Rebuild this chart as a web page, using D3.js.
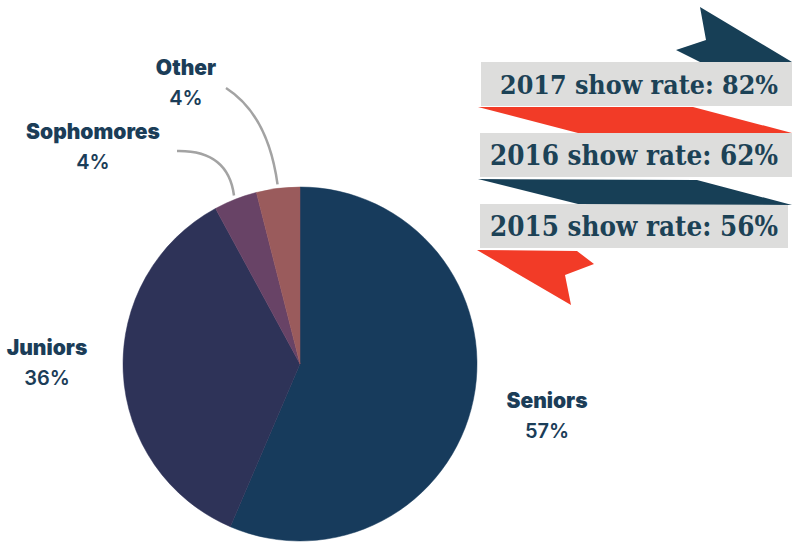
<!DOCTYPE html>
<html>
<head>
<meta charset="utf-8">
<script src="https://cdn.jsdelivr.net/npm/d3@7/dist/d3.min.js"></script>
<style>
  html, body { margin: 0; padding: 0; background: #ffffff; }
  svg { display: block; }
</style>
</head>
<body>
<svg id="chart" width="792" height="542"></svg>
<script>
// ---- data ----
const categories = ["Seniors", "Juniors", "Sophomores", "Other"];
const shares = [57, 36, 4, 4];
const sliceColors = ["#173b5c", "#2e3358", "#684366", "#9a5b5c"];
const years = ["2017", "2016", "2015"];
const showRates = [82, 62, 56];

// label anchor positions (layout)
const labelPos = {
  "Other":      {x: 186, y: 75,  lead: [226, 88],  ctrl: [268, 115]},
  "Sophomores": {x: 93,  y: 139, lead: [177, 151], ctrl: [228, 150]},
  "Juniors":    {x: 47,  y: 355},
  "Seniors":    {x: 547, y: 408}
};

const svg = d3.select("#chart");
const W = 792, H = 542;
svg.append("rect").attr("width", W).attr("height", H).attr("fill", "#ffffff");

// ---- ribbons / banners ----
const navy = "#173f56", red = "#f23b27", gray = "#dddddc", textCol = "#1c4256";
const rib = svg.append("g");

const bandY = d3.scaleBand().domain(years).range([62, 248]).paddingInner(0.38);
const boxX0 = {"2017": 481, "2016": 480, "2015": 480};
years.forEach((yr) => {
  rib.append("rect")
    .attr("x", boxX0[yr]).attr("y", bandY(yr))
    .attr("width", (yr === "2015" ? 788 : 792) - boxX0[yr])
    .attr("height", bandY.bandwidth())
    .attr("fill", gray);
});

// top navy arrow
rib.append("polygon").attr("fill", navy)
  .attr("points", [[700,7],[792,62],[700,62],[676,50],[706,40]].join(" "));
// red band 1
rib.append("polygon").attr("fill", red)
  .attr("points", [[478,107],[693,107],[792,133],[578,133]].join(" "));
// navy band
rib.append("polygon").attr("fill", navy)
  .attr("points", [[478,179],[697,180],[792,205],[578,204]].join(" "));
// bottom red tail
rib.append("polygon").attr("fill", red)
  .attr("points", [[477,250],[577,251],[594,264],[565,275],[571,305]].join(" "));

const textX0 = {"2017": 500, "2016": 490, "2015": 490};
years.forEach((yr, i) => {
  const y0 = bandY(yr);
  const t = rib.append("text")
    .attr("x", 778).attr("y", y0 + bandY.bandwidth() / 2 + 10)
    .attr("text-anchor", "end")
    .attr("font-family", "'DejaVu Serif Condensed', 'DejaVu Serif', serif")
    .attr("font-stretch", "condensed")
    .attr("font-weight", "bold")
    .attr("font-size", 27)
    .attr("fill", textCol)
    .text(`${yr} show rate: ${showRates[i]}%`);
  const target = 778 - textX0[yr];
  const nat = t.node().getComputedTextLength();
  if (nat > target) {
    t.attr("font-size", 27 * target / nat);
  } else {
    t.attr("textLength", target).attr("lengthAdjust", "spacingAndGlyphs");
  }
});

// ---- pie ----
const cx = 300, cy = 364, r = 177;
const pie = d3.pie().sort(null).value(d => d.v);
const data = categories.map((c, i) => ({c, v: shares[i], col: sliceColors[i]}));
const arcs = pie(data);
const arc = d3.arc().innerRadius(0).outerRadius(r);
const g = svg.append("g").attr("transform", `translate(${cx},${cy})`);
g.selectAll("path").data(arcs).join("path")
  .attr("d", arc)
  .attr("fill", d => d.data.col)
  .attr("stroke", d => d.data.col)
  .attr("stroke-width", 0.5);

// leader lines
const outer = d3.arc().innerRadius(r + 4).outerRadius(r + 4);
arcs.forEach(a => {
  const lp = labelPos[a.data.c];
  if (!lp.lead) return;
  const [ex, ey] = outer.centroid(a);
  const path = d3.path();
  path.moveTo(lp.lead[0], lp.lead[1]);
  path.quadraticCurveTo(lp.ctrl[0], lp.ctrl[1], cx + ex, cy + ey);
  svg.append("path").attr("d", path.toString())
    .attr("fill", "none").attr("stroke", "#a3a3a3").attr("stroke-width", 2.5);
});

// labels
arcs.forEach(a => {
  const lp = labelPos[a.data.c];
  const t = svg.append("g");
  t.append("text").attr("x", lp.x).attr("y", lp.y)
    .attr("text-anchor", "middle")
    .attr("font-family", "Inter, 'Open Sans', sans-serif")
    .attr("font-weight", 900).attr("font-size", 21)
    .attr("fill", "#1b3d58")
    .text(a.data.c);
  t.append("text").attr("x", lp.x).attr("y", lp.y + 30)
    .attr("text-anchor", "middle")
    .attr("font-family", "Inter, 'Open Sans', sans-serif")
    .attr("font-weight", 600).attr("font-size", 20)
    .attr("fill", "#1b3d58")
    .text(Math.round(a.data.v) + "%");
});
</script>
</body>
</html>
